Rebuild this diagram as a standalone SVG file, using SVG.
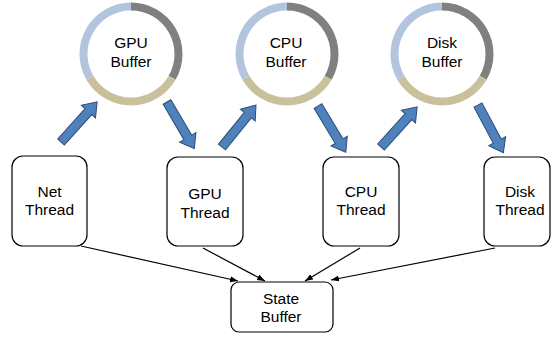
<svg xmlns="http://www.w3.org/2000/svg" xmlns:xlink="http://www.w3.org/1999/xlink" width="552" height="337" viewBox="0 0 552 337">
<style>
.lbl{font-family:"Liberation Sans",Arial,sans-serif;font-size:15.5px;fill:#000;text-anchor:middle}
.box{fill:#fff;stroke:#000;stroke-width:1.2}
.seg{fill:none;stroke-width:8}
.g{stroke:#808080}
.t{stroke:#c9c19c}
.b{stroke:#b3c4df}
.conn{stroke:#000;stroke-width:1.2;fill:none;marker-end:url(#ah)}
.ba{fill:#4f81bd;stroke:#2c4d75;stroke-width:1}
</style>
<defs>
<marker id="ah" markerUnits="userSpaceOnUse" markerWidth="9" markerHeight="7" refX="8" refY="3" orient="auto">
<path d="M0,0 L8,3 L0,6 Z" fill="#000"/>
</marker>
<path id="barrow" d="M0,-4.5 H41 V-9.5 L54,0 L41,9.5 V4.5 H0 Z"/>
<g id="ring">
<path class="seg g" d="M0,-47.5 A47.5,47.5 0 0 1 41.14,23.75"/>
<path class="seg t" d="M41.14,23.75 A47.5,47.5 0 0 1 -41.14,23.75"/>
<path class="seg b" d="M-41.14,23.75 A47.5,47.5 0 0 1 0,-47.5"/>
</g>
</defs>
<rect width="552" height="337" fill="#fff"/>

<g id="gpu-buffer">
<use xlink:href="#ring" transform="translate(131,54)"/>
<text class="lbl" x="131" y="48">GPU</text>
<text class="lbl" x="131" y="67">Buffer</text>
</g>
<g id="cpu-buffer">
<use xlink:href="#ring" transform="translate(287,54)"/>
<text class="lbl" x="286" y="48">CPU</text>
<text class="lbl" x="286" y="67">Buffer</text>
</g>
<g id="disk-buffer">
<use xlink:href="#ring" transform="translate(442,54)"/>
<text class="lbl" x="442" y="48">Disk</text>
<text class="lbl" x="442" y="67">Buffer</text>
</g>

<g id="net-thread">
<rect class="box" x="12" y="156" width="75" height="90" rx="11"/>
<text class="lbl" x="49.5" y="197">Net</text>
<text class="lbl" x="49.5" y="215">Thread</text>
</g>
<g id="gpu-thread">
<rect class="box" x="167" y="157" width="76" height="89" rx="11"/>
<text class="lbl" x="205" y="199">GPU</text>
<text class="lbl" x="205" y="218">Thread</text>
</g>
<g id="cpu-thread">
<rect class="box" x="323" y="157" width="76" height="89" rx="11"/>
<text class="lbl" x="361" y="197">CPU</text>
<text class="lbl" x="361" y="215">Thread</text>
</g>
<g id="disk-thread">
<rect class="box" x="484" y="157" width="66" height="89" rx="11"/>
<text class="lbl" x="520" y="197">Disk</text>
<text class="lbl" x="520" y="215">Thread</text>
</g>
<g id="state-buffer">
<rect class="box" x="231" y="282" width="102" height="50" rx="8"/>
<text class="lbl" x="281" y="304">State</text>
<text class="lbl" x="281" y="322">Buffer</text>
</g>

<g id="connectors">
<use xlink:href="#barrow" class="ba" transform="translate(61,142) rotate(-48)"/>
<use xlink:href="#barrow" class="ba" transform="translate(167,102) rotate(59.6)"/>
<use xlink:href="#barrow" class="ba" transform="translate(222,147) rotate(-51)"/>
<use xlink:href="#barrow" class="ba" transform="translate(318,106) rotate(59)"/>
<use xlink:href="#barrow" class="ba" transform="translate(381,147) rotate(-48)"/>
<use xlink:href="#barrow" class="ba" transform="translate(478,105) rotate(62)"/>
<path class="conn" d="M81,246 L238,281"/>
<path class="conn" d="M203,248 L265,281"/>
<path class="conn" d="M360,248 L305,281"/>
<path class="conn" d="M495,248 L331,280"/>
</g>
</svg>
